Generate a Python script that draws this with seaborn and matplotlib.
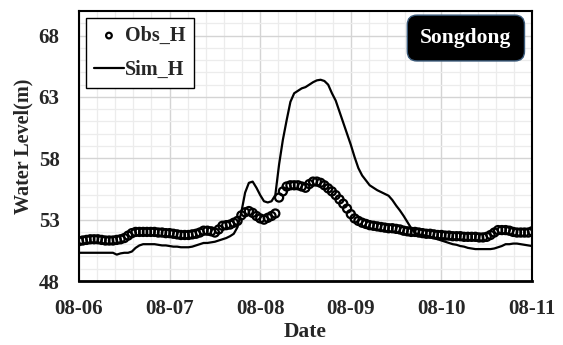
import numpy as np
import pandas as pd
import matplotlib
matplotlib.use("Agg")
import matplotlib.pyplot as plt
from matplotlib.ticker import MultipleLocator, FixedLocator, FixedFormatter
import seaborn as sns

# ---- data (hourly, Aug-06 00:00 .. Aug-11 00:00) ----
hours = list(range(121))
tick_labels = ["08-06", "08-07", "08-08", "08-09", "08-10", "08-11"]

obs_h = [51.25, 51.3, 51.35, 51.4, 51.4, 51.4, 51.35, 51.3, 51.3, 51.3,
         51.35, 51.4, 51.5, 51.7, 51.9, 52.0, 52.0, 52.0, 52.0, 52.0,
         52.0, 51.95, 51.95, 51.9, 51.9, 51.85, 51.8, 51.75, 51.75, 51.75,
         51.8, 51.85, 51.95, 52.1, 52.1, 52.05, 51.95, 52.2, 52.5, 52.55,
         52.6, 52.75, 52.9, 53.35, 53.6, 53.7, 53.55, 53.3, 53.1, 53.0,
         53.15, 53.3, 53.5, 54.8, 55.3, 55.7, 55.8, 55.8, 55.8, 55.7,
         55.6, 55.9, 56.1, 56.1, 56.0, 55.8, 55.55, 55.3, 55.0, 54.65,
         54.3, 53.9, 53.45, 53.1, 52.9, 52.75, 52.65, 52.55, 52.5, 52.45,
         52.4, 52.35, 52.3, 52.3, 52.25, 52.2, 52.1, 52.05, 52.0, 52.0,
         51.95, 51.9, 51.85, 51.85, 51.8, 51.75, 51.75, 51.7, 51.7, 51.65,
         51.65, 51.65, 51.6, 51.6, 51.6, 51.6, 51.55, 51.55, 51.6, 51.75,
         51.95, 52.15, 52.15, 52.15, 52.1, 52.0, 51.95, 51.95, 51.95, 51.95,
         52.05]

sim_h = [50.3, 50.3, 50.3, 50.3, 50.3, 50.3, 50.3, 50.3, 50.3, 50.3,
         50.15, 50.25, 50.3, 50.3, 50.4, 50.7, 50.9, 51.0, 51.0, 51.0,
         51.0, 50.95, 50.9, 50.9, 50.85, 50.8, 50.8, 50.75, 50.75, 50.75,
         50.8, 50.9, 51.0, 51.1, 51.1, 51.15, 51.2, 51.3, 51.4, 51.5,
         51.65, 51.85, 52.4, 53.6, 55.2, 56.0, 56.1, 55.6, 55.0, 54.5,
         54.4, 54.5, 55.0, 57.5, 59.5, 61.1, 62.6, 63.3, 63.5, 63.7,
         63.8, 64.0, 64.2, 64.35, 64.4, 64.3, 64.0, 63.3, 62.7, 61.8,
         60.9, 60.0, 59.1, 58.1, 57.2, 56.6, 56.2, 55.8, 55.6, 55.4,
         55.25, 55.1, 54.95, 54.6, 54.15, 53.75, 53.3, 52.8, 52.3, 51.9,
         51.8, 51.75, 51.7, 51.6, 51.5, 51.4, 51.3, 51.2, 51.1, 51.0,
         50.95, 50.85, 50.8, 50.7, 50.65, 50.6, 50.6, 50.6, 50.6, 50.6,
         50.65, 50.75, 50.85, 51.0, 51.0, 51.05, 51.05, 51.0, 50.95, 50.9,
         50.85]

df = pd.DataFrame({"day": np.array(hours) / 24.0, "Obs_H": obs_h, "Sim_H": sim_h})

# ---- figure ----
sns.set_theme(style="white")
plt.rcParams["font.family"] = ["Liberation Serif", "DejaVu Serif"]
plt.rcParams["font.weight"] = "bold"

fig = plt.figure(figsize=(5.63, 3.45), dpi=100)
ax = fig.add_axes([0.1403, 0.1855, 0.8047, 0.7825])

sns.lineplot(data=df, x="day", y="Sim_H", ax=ax, color="black", lw=1.6,
             label="Sim_H", legend=False, zorder=3)
sns.scatterplot(data=df, x="day", y="Obs_H", ax=ax, marker="o", s=34,
                facecolor="none", edgecolor="black", linewidth=1.6,
                label="Obs_H", legend=False, zorder=4)

ax.set_xlim(0, 5)
ax.set_ylim(48, 70)
ax.xaxis.set_major_locator(FixedLocator(list(range(len(tick_labels)))))
ax.xaxis.set_major_formatter(FixedFormatter(tick_labels))
ax.xaxis.set_minor_locator(MultipleLocator(0.2))
ax.yaxis.set_major_locator(FixedLocator([48, 53, 58, 63, 68]))
ax.yaxis.set_minor_locator(MultipleLocator(1))

ax.grid(which="major", color="#d4d4d4", lw=1.0, zorder=0)
ax.grid(which="minor", color="#ececec", lw=0.9, zorder=0)
ax.set_axisbelow(True)

ax.tick_params(axis="both", which="both", length=0, labelsize=15)
ax.tick_params(axis="x", pad=13)
ax.tick_params(axis="y", pad=14)
for lab in ax.get_xticklabels() + ax.get_yticklabels():
    lab.set_fontweight("bold")

for s in ax.spines.values():
    s.set_color("black")
    s.set_linewidth(1.5)
ax.spines["bottom"].set_linewidth(2.0)

ax.set_xlabel("Date", fontsize=15.5, fontweight="bold", labelpad=2)
ax.set_ylabel("Water Level(m)", fontsize=14.5, fontweight="bold", labelpad=4)

handles, labels = ax.get_legend_handles_labels()
order = [labels.index("Obs_H"), labels.index("Sim_H")]
leg = ax.legend([handles[i] for i in order], [labels[i] for i in order],
                loc="upper left", bbox_to_anchor=(0.015, 0.975), borderaxespad=0,
                frameon=True, fancybox=False, edgecolor="black", framealpha=1,
                prop={"size": 14.5, "weight": "bold"}, handlelength=1.5,
                handletextpad=0.05, borderpad=0.4, labelspacing=0.7,
                markerscale=0.7)
leg.get_frame().set_linewidth(1.0)

ax.text(0.854, 0.90, "Songdong", transform=ax.transAxes, ha="center", va="center",
        fontsize=15.5, fontweight="bold", color="white", zorder=6,
        bbox=dict(boxstyle="round,pad=0.6,rounding_size=0.45", facecolor="black",
                  edgecolor="#3a5a7a", linewidth=1.0))

fig.savefig("out.png", dpi=100)
